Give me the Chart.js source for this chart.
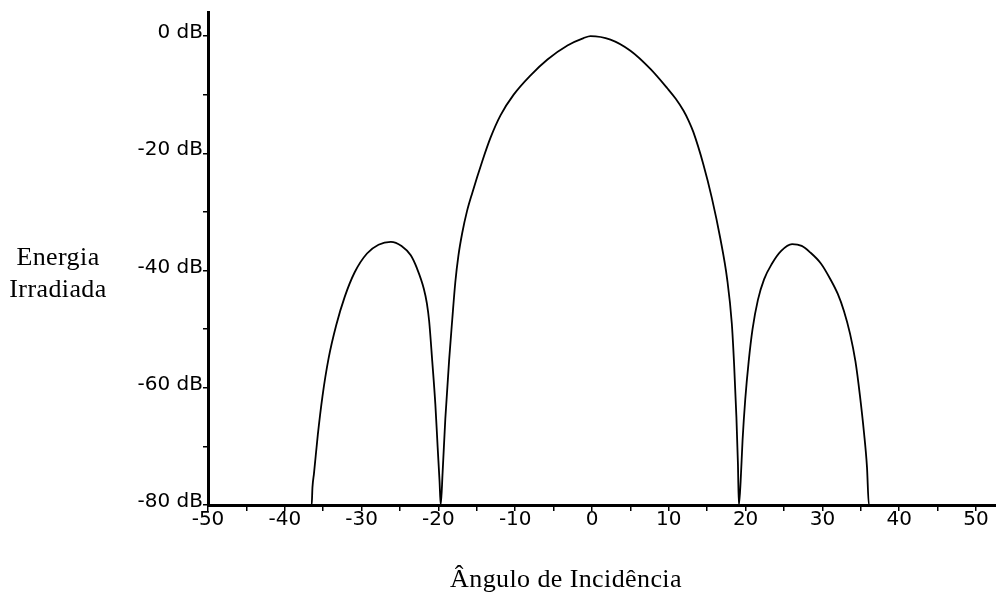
<!DOCTYPE html>
<html>
<head>
<meta charset="utf-8">
<script src="https://cdn.jsdelivr.net/npm/chart.js@4/dist/chart.umd.min.js"></script>
<style>
  html, body { margin: 0; padding: 0; background: #fff; }
  #wrap { position: relative; width: 996px; height: 596px; }
  #c { position: absolute; left: 0; top: 0; }
  .ttl { position: absolute; font-family: "Liberation Serif", "Times New Roman", serif; font-size: 26px; letter-spacing: 0.4px; color: #000; white-space: nowrap; }
  #ytitle { left: 0; width: 116px; top: 241px; text-align: center; line-height: 32px; }
  #xtitle { left: 366px; width: 400px; top: 564px; text-align: center; }
</style>
</head>
<body>
<div id="wrap">
  <canvas id="c" width="996" height="596"></canvas>
  <div class="ttl" id="ytitle">Energia<br>Irradiada</div>
  <div class="ttl" id="xtitle">Ângulo de Incidência</div>
</div>
<script>
// angle of incidence (degrees)
const angles = [
  -50, -36.5, -36.4, -36.2, -35.7, -35.1, -34.3, -33.3, -32.2, -30.9, -29.3, -27.8, -26.2,
  -24.8, -23.6, -22.8, -21.9, -21.5, -21.2, -20.8, -20.4, -20.1, -19.85, -19.7,
  -19.45, -19.1, -18.6, -18.2, -17.8, -17.4, -16.9, -16.3, -15.6, -14.3, -13.2, -11.9, -10.2, -8.0, -5.8, -3.2, -1.1, -0.2,
  2.4, 5.0, 7.6, 9.8, 10.9, 11.9, 12.6, 13.2, 14.5, 15.6, 16.7, 17.6, 18.2, 18.5, 18.8, 19.0, 19.12,
  19.35, 19.6, 19.95, 20.4, 20.9, 21.6, 22.4, 23.4, 24.6, 26.05,
  27.3, 28.4, 29.8, 31.0, 32.0, 32.8, 33.6, 34.3, 34.9, 35.4, 35.8, 36.05,
  52.6
];
// radiated energy (dB)
const levels = [
  -80, -80, -77, -74.6, -68, -61.5, -55, -49.3, -44.5, -40.3, -37.1, -35.6, -35.1,
  -35.8, -37.4, -39.6, -43.1, -45.6, -48.7, -55.5, -62.8, -70.1, -76, -80,
  -74.4, -65.3, -55.2, -48.4, -42.0, -37.5, -33.6, -30.0, -26.8, -21.4, -17.3, -13.5, -10.0, -6.7, -4.0, -1.6, -0.35, 0,
  -0.6, -2.5, -5.6, -8.9, -10.7, -12.7, -14.5, -16.4, -21.9, -27.6, -34.5, -41.5, -49.0, -56, -65, -73, -80,
  -76, -69, -62, -55.5, -50, -45, -41.5, -38.9, -36.7, -35.5,
  -35.8, -36.9, -38.8, -41.4, -44.0, -46.9, -50.8, -55.5, -61.5, -67.5, -73.5, -80,
  -80
];
const xTicksLabelled = [-50, -40, -30, -20, -10, 0, 10, 20, 30, 40, 50];
const yTicksLabelled = [0, -20, -40, -60, -80];

const points = angles.map((a, i) => ({ x: a, y: levels[i] }));

new Chart(document.getElementById('c'), {
  type: 'scatter',
  data: {
    datasets: [{
      data: points,
      showLine: true,
      borderColor: '#000',
      borderWidth: 1.8,
      pointRadius: 0,
      cubicInterpolationMode: 'monotone'
    }]
  },
  options: {
    responsive: false,
    animation: false,
    layout: { padding: { top: 7, left: 0, right: 0, bottom: 0 } },
    plugins: { legend: { display: false }, tooltip: { enabled: false } },
    scales: {
      x: {
        type: 'linear',
        min: -50,
        max: 52.6,
        afterFit: (s) => { s.height = 91; },
        border: { display: true, color: '#000', width: 3 },
        grid: { display: true, drawOnChartArea: false, drawTicks: true, tickLength: 6, color: '#000', lineWidth: 1.5 },
        ticks: {
          stepSize: 5,
          includeBounds: false,
          autoSkip: false,
          maxRotation: 0,
          padding: -3,
          color: '#000',
          font: { family: 'DejaVu Sans', size: 20 },
          callback: (v) => xTicksLabelled.includes(v) ? String(v) : ''
        }
      },
      y: {
        type: 'linear',
        min: -80,
        max: 4.1,
        afterFit: (s) => { s.width = 208; },
        border: { display: true, color: '#000', width: 3 },
        grid: { display: true, drawOnChartArea: false, drawTicks: true, tickLength: 5, color: '#000', lineWidth: 1.5 },
        ticks: {
          stepSize: 10,
          includeBounds: false,
          autoSkip: false,
          padding: 0,
          labelOffset: -3,
          color: '#000',
          font: { family: 'DejaVu Sans', size: 20 },
          callback: (v) => yTicksLabelled.includes(v) ? v + ' dB' : ''
        }
      }
    }
  }
});
</script>
</body>
</html>
